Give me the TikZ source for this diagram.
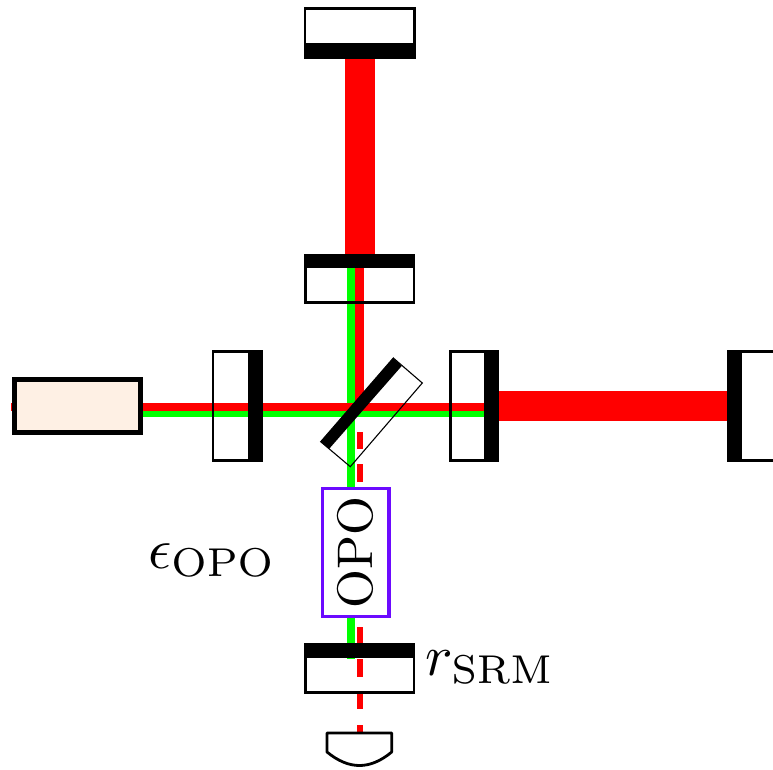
\documentclass[tikz,border=0pt]{standalone}
\definecolor{opoviolet}{RGB}{108,10,255}
\definecolor{lasercream}{RGB}{254,240,228}
\tikzset{
  redbeam/.style={draw=none,fill=red},
  greenbeam/.style={draw=none,fill=green},
  mirrorbody/.style={draw=black,line width=2.7pt},
  coat/.style={draw=none,fill=black},
  lab/.style={inner sep=0pt,scale=5.75,anchor=base west},
}
\begin{document}
\begin{tikzpicture}[x=1pt,y=-1pt]
\useasboundingbox (0,0) rectangle (773,770);
% beams
\fill[redbeam] (344.7,50) rectangle (374.7,256);
\fill[redbeam] (496,391) rectangle (730,421);
\fill[greenbeam] (347,262) rectangle (355,658.5);
\fill[redbeam] (355,262) rectangle (364,416);
\fill[redbeam] (140,402.5) rectangle (490,411);
\fill[greenbeam] (140,411) rectangle (490,417);
\fill[redbeam] (11,402.5) rectangle (16,411);
% dashed output
\foreach \a/\b in {432/449,464/482,627/645,659/677,692/709,725/734}
  \fill[redbeam] (357,\a) rectangle (362.5,\b);
% mirrors
\draw[mirrorbody] (305,8.7) rectangle (414.3,57);
\fill[coat] (303.6,43.3) rectangle (415.6,58.7);
\draw[mirrorbody] (305.4,255) rectangle (414,302.7);
\fill[coat] (304,253.7) rectangle (415.4,268);
\draw[mirrorbody] (213.1,351.4) rectangle (262,460.4);
\fill[coat] (248.3,350) rectangle (263.4,461.8);
\draw[mirrorbody] (450.4,351.4) rectangle (498,460.4);
\fill[coat] (484.3,350) rectangle (499.4,461.8);
\draw[mirrorbody] (728,351.4) rectangle (790,460.6);
\fill[coat] (726.7,350) rectangle (742.3,462);
\draw[mirrorbody] (305.4,645) rectangle (414,692.7);
\fill[coat] (304,642.7) rectangle (415.4,658.3);
% beam splitter
\draw[draw=black,line width=1.1pt] (393.3,358) -- (422.3,383) -- (350.3,466.7) -- (320.7,441.7) -- cycle;
\fill[coat] (393.3,358) -- (401.7,366) -- (329,449) -- (320.7,441.7) -- cycle;
% laser
\node[draw=black,line width=5pt,fill=lasercream,minimum width=125.4pt,minimum height=53.3pt,inner sep=0pt] (laser) at (77.5,406) {};
% OPO
\node[draw=opoviolet,line width=3.4pt,fill=white,minimum width=66.6pt,minimum height=127.6pt,inner sep=0pt] (opo) at (355.7,552.5) {};
\node[rotate=90,scale=5,inner sep=0pt] (opotext) at (355,552.5) {OPO};
% photodiode
\draw[black,line width=2.8pt,line join=round,fill=white] (327,733) -- (391.7,733) -- (391.7,752) .. controls (370,770) and (349,770) .. (327,752) -- cycle;
% labels
\node[lab] (eps) at (147,568) {$\epsilon_{\mathrm{OPO}}$};
\node[lab] (rsrm) at (424.5,675) {$r_{\mathrm{SRM}}$};
\end{tikzpicture}
\end{document}
